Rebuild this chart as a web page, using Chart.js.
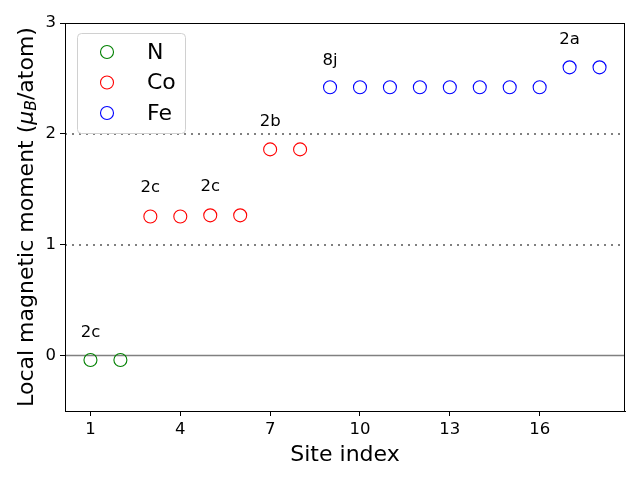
<!DOCTYPE html>
<html>
<head>
<meta charset="utf-8">
<script src="https://cdn.jsdelivr.net/npm/chart.js@4.4.0/dist/chart.umd.min.js"></script>
<style>
  html, body { margin: 0; padding: 0; background: #fff; }
  canvas { display: block; }
</style>
</head>
<body>
<canvas id="myChart" width="640" height="480"></canvas>
<script>
// data
const nSites = [1, 2];
const nMoments = [-0.04, -0.04];
const coSites = [3, 4, 5, 6, 7, 8];
const coMoments = [1.255, 1.255, 1.265, 1.265, 1.86, 1.86];
const feSites = [9, 10, 11, 12, 13, 14, 15, 16, 17, 18];
const feMoments = [2.42, 2.42, 2.42, 2.42, 2.42, 2.42, 2.42, 2.42, 2.60, 2.60];

const xTicks = [1, 4, 7, 10, 13, 16];
const yTicks = [0, 1, 2, 3];

// wyckoff labels
const annoText = ['2c', '2c', '2c', '2b', '8j', '2a'];
const annoX = [1, 3, 5, 7, 9, 17];
const annoY = [0.21, 1.51, 1.52, 2.11, 2.66, 2.85];

const FONT = '"DejaVu Sans", sans-serif';

function toPoints(xs, ys) {
  return xs.map((x, i) => ({ x: x, y: ys[i] }));
}

function makeSet(label, xs, ys, color) {
  return {
    label: label,
    data: toPoints(xs, ys),
    borderColor: color,
    backgroundColor: 'rgba(0,0,0,0)',
    pointRadius: 6.5,
    pointHoverRadius: 6.5,
    pointBorderWidth: 1.1,
    showLine: false
  };
}

// reference lines, frame, labels, legend, y title
const extras = {
  id: 'extras',
  beforeDatasetsDraw(chart) {
    const { ctx, chartArea: a, scales: { x, y } } = chart;
    ctx.save();
    ctx.strokeStyle = '#808080';
    ctx.lineWidth = 2;
    [1, 2].forEach(v => {
      const py = Math.round(y.getPixelForValue(v));
      ctx.setLineDash([2, 5]);
      ctx.beginPath();
      ctx.moveTo(a.left, py);
      ctx.lineTo(a.right, py);
      ctx.stroke();
    });
    ctx.setLineDash([]);
    ctx.lineWidth = 1.5;
    const p0 = y.getPixelForValue(0);
    ctx.beginPath();
    ctx.moveTo(a.left, p0);
    ctx.lineTo(a.right, p0);
    ctx.stroke();
    ctx.restore();
  },
  afterDatasetsDraw(chart) {
    const { ctx, chartArea: a, scales: { x, y } } = chart;
    ctx.save();
    // frame
    ctx.strokeStyle = '#000';
    ctx.lineWidth = 1;
    ctx.strokeRect(Math.round(a.left) + 0.5, Math.round(a.top) + 0.5,
      Math.round(a.right - a.left) - 1, Math.round(a.bottom - a.top));

    // annotations
    ctx.fillStyle = '#000';
    ctx.font = '16.5px ' + FONT;
    ctx.textAlign = 'center';
    ctx.textBaseline = 'middle';
    annoText.forEach((t, i) => {
      ctx.fillText(t, x.getPixelForValue(annoX[i]), y.getPixelForValue(annoY[i]));
    });

    // legend box
    const lx = 77, ly = 33, lw = 108, lh = 100;
    ctx.fillStyle = 'rgba(255,255,255,0.8)';
    ctx.strokeStyle = '#d0d0d0';
    ctx.beginPath();
    ctx.roundRect(lx + 0.5, ly + 0.5, lw, lh, 4);
    ctx.fill();
    ctx.stroke();
    ctx.font = '22px ' + FONT;
    ctx.textAlign = 'left';
    chart.data.datasets.forEach((ds, i) => {
      const cy = 52 + i * 30.5;
      ctx.strokeStyle = ds.borderColor;
      ctx.lineWidth = 1.1;
      ctx.beginPath();
      ctx.arc(107, cy, 6.5, 0, Math.PI * 2);
      ctx.stroke();
      ctx.fillStyle = '#000';
      ctx.fillText(ds.label, 147, cy + 1);
    });

    // y axis title with mu_B
    const parts = [
      { t: 'Local magnetic moment (', f: '22px ' + FONT, dy: 0 },
      { t: 'μ', f: 'italic 22px ' + FONT, dy: 0 },
      { t: 'B', f: 'italic 15.5px ' + FONT, dy: 5 },
      { t: '/atom)', f: '22px ' + FONT, dy: 0 }
    ];
    let total = 0;
    parts.forEach(p => { ctx.font = p.f; p.w = ctx.measureText(p.t).width; total += p.w; });
    ctx.translate(27, (a.top + a.bottom) / 2);
    ctx.rotate(-Math.PI / 2);
    ctx.textBaseline = 'middle';
    let cx = -total / 2;
    parts.forEach(p => {
      ctx.font = p.f;
      ctx.fillText(p.t, cx, p.dy);
      cx += p.w;
    });
    ctx.restore();
  }
};

const chart = new Chart(document.getElementById('myChart'), {
  type: 'scatter',
  data: {
    datasets: [
      makeSet('N', nSites, nMoments, 'green'),
      makeSet('Co', coSites, coMoments, 'red'),
      makeSet('Fe', feSites, feMoments, 'blue')
    ]
  },
  options: {
    responsive: false,
    animation: false,
    events: [],
    layout: { padding: { top: 23, right: 15, left: 0, bottom: 0 } },
    plugins: { legend: { display: false }, tooltip: { enabled: false } },
    scales: {
      x: {
        type: 'linear',
        min: 0.15,
        max: 18.85,
        afterBuildTicks: s => { s.ticks = xTicks.map(v => ({ value: v })); },
        afterFit: s => { s.height = 69; },
        grid: { drawOnChartArea: false, drawTicks: true, tickLength: 5, tickColor: '#000' },
        border: { display: true, color: '#000', width: 1 },
        ticks: { color: '#000', font: { family: FONT, size: 16.5 }, padding: 4, maxRotation: 0 },
        title: { display: true, text: 'Site index', color: '#000', font: { family: FONT, size: 22 }, padding: { top: 0, bottom: 12 } }
      },
      y: {
        type: 'linear',
        min: -0.5,
        max: 3,
        afterBuildTicks: s => { s.ticks = yTicks.map(v => ({ value: v })); },
        afterFit: s => { s.width = 65; },
        grid: { drawOnChartArea: false, drawTicks: true, tickLength: 5, tickColor: '#000' },
        border: { display: true, color: '#000', width: 1 },
        ticks: { color: '#000', font: { family: FONT, size: 16.5 }, padding: 4 }
      }
    }
  },
  plugins: [extras]
});
</script>
</body>
</html>
